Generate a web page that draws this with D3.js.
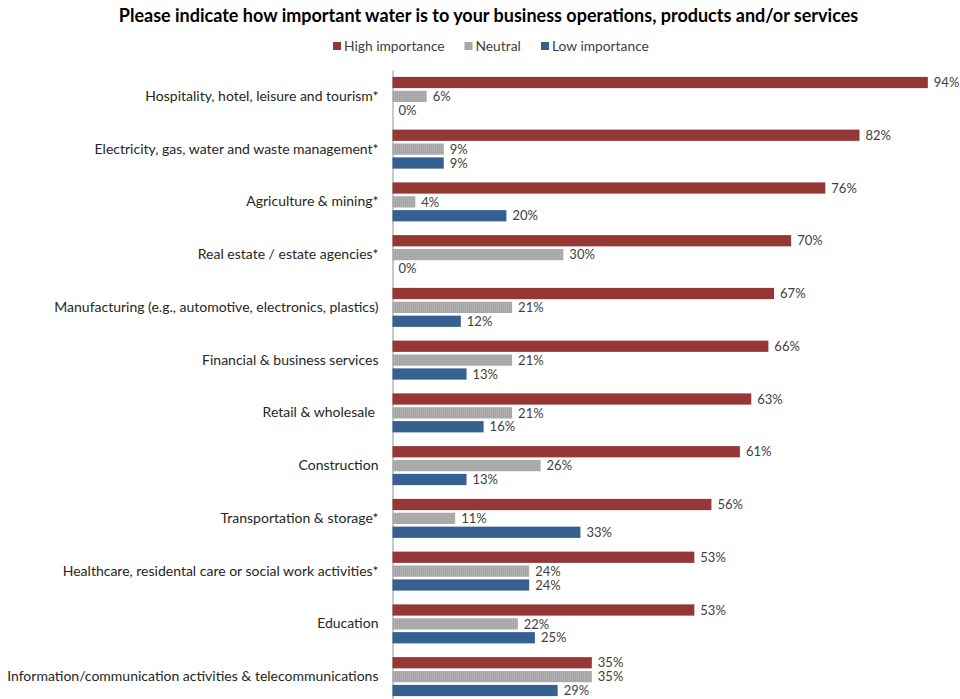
<!DOCTYPE html>
<html>
<head>
<meta charset="utf-8">
<script src="https://cdn.jsdelivr.net/npm/d3@7/dist/d3.min.js"></script>
<style>
  html, body { margin: 0; padding: 0; background: #fff; }
  svg { display: block; }
  text { font-family: Lato, "Open Sans", sans-serif; }
</style>
</head>
<body>
<svg id="chart" width="960" height="699"></svg>
<script>
// Sectors, top to bottom
const categories = [
  "Hospitality, hotel, leisure and tourism*",
  "Electricity, gas, water and waste management*",
  "Agriculture & mining*",
  "Real estate / estate agencies*",
  "Manufacturing (e.g., automotive, electronics, plastics)",
  "Financial & business services",
  "Retail & wholesale ",
  "Construction",
  "Transportation & storage*",
  "Healthcare, residental care or social work activities*",
  "Education",
  "Information/communication activities & telecommunications"
];

// Share of respondents (%) per importance level
const highImportance = [94, 82, 76, 70, 67, 66, 63, 61, 56, 53, 53, 35];
const neutral        = [6, 9, 4, 30, 21, 21, 21, 26, 11, 24, 22, 35];
const lowImportance  = [0, 9, 20, 0, 12, 13, 16, 13, 33, 24, 25, 29];

const seriesNames = ["High importance", "Neutral", "Low importance"];
const seriesValues = [highImportance, neutral, lowImportance];
const seriesColors = ["#953735", "url(#grain)", "#376092"];
const legendColors = ["#953735", "#a6a6a6", "#376092"];

const svg = d3.select("#chart");

// Fine grain fill for the neutral bars
const defs = svg.append("defs");
const pat = defs.append("pattern")
  .attr("id", "grain").attr("patternUnits", "userSpaceOnUse")
  .attr("width", 2).attr("height", 2);
pat.append("rect").attr("width", 2).attr("height", 2).attr("fill", "#a9a9a9");
pat.append("rect").attr("x", 0).attr("y", 0).attr("width", 1).attr("height", 1).attr("fill", "#b5b5b5");
pat.append("rect").attr("x", 1).attr("y", 1).attr("width", 1).attr("height", 1).attr("fill", "#a0a0a0");

// Title
svg.append("text")
  .attr("x", 488.5).attr("y", 22)
  .attr("text-anchor", "middle")
  .attr("font-size", 18).attr("font-weight", "bold")
  .attr("fill", "#000")
  .text("Please indicate how important water is to your business operations, products and/or services");

// Legend
const legend = svg.append("g").attr("transform", "translate(0,46)");
const legendX = [333, 464.5, 541];
seriesNames.forEach((name, i) => {
  const g = legend.append("g").attr("transform", `translate(${legendX[i]},0)`);
  g.append("rect").attr("x", 0).attr("y", -4).attr("width", 8).attr("height", 8).attr("fill", legendColors[i]);
  g.append("text").attr("x", 11).attr("y", 0).attr("dy", "0.35em")
    .attr("font-size", 13.8).attr("fill", "#404040").text(name);
});

// Scales
const x = d3.scaleLinear().domain([0, 100]).range([392.5, 962]);
const y = d3.scaleBand().domain(categories).range([70, 703]).padding(0);
const sub = d3.scaleBand().domain(seriesNames).range([-19.5, 19.5]).paddingInner(0.19);

// Category axis
const yAxis = d3.axisLeft(y).tickSize(0).tickPadding(14);
const axisG = svg.append("g").attr("transform", `translate(${x(0)},0)`).call(yAxis);
axisG.select(".domain").attr("stroke", "#a6a6a6").attr("stroke-width", 1.2);
axisG.selectAll(".tick text")
  .attr("font-family", "Lato, 'Open Sans', sans-serif")
  .attr("font-size", 14).attr("fill", "#262626")
  .style("white-space", "pre");

// Bars and value labels
const groups = svg.append("g").selectAll("g")
  .data(categories)
  .join("g")
  .attr("transform", d => `translate(0,${y(d) + y.bandwidth() / 2})`);

seriesNames.forEach((name, s) => {
  groups.append("rect")
    .attr("x", x(0))
    .attr("y", sub(name))
    .attr("height", sub.bandwidth())
    .attr("width", (d, i) => x(seriesValues[s][i]) - x(0))
    .attr("fill", seriesColors[s]);
  groups.append("text")
    .attr("x", (d, i) => x(seriesValues[s][i]) + 6)
    .attr("y", sub(name) + sub.bandwidth() / 2)
    .attr("dy", "0.36em")
    .attr("font-size", 13).attr("fill", "#404040")
    .text((d, i) => seriesValues[s][i] + "%");
});
</script>
</body>
</html>
